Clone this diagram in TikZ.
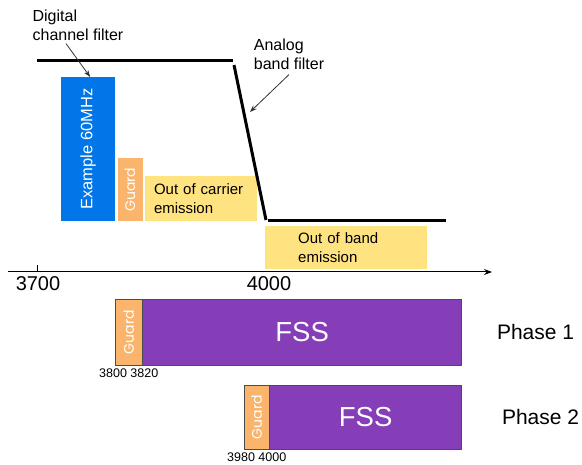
\documentclass[tikz,border=0pt]{standalone}
\usepackage{fontspec}
\setmainfont{Liberation Sans}
\newfontfamily\guardfont{Poppins}
\usetikzlibrary{arrows.meta, positioning}

\definecolor{chanblue}{RGB}{0,118,232}
\definecolor{guardorange}{RGB}{250,180,108}
\definecolor{emityellow}{RGB}{255,227,128}
\definecolor{fsspurple}{RGB}{134,62,184}

\begin{document}
\begin{tikzpicture}[
    x=1pt, y=-1pt,
    block/.style={
        rectangle,
        inner sep=0pt,
        anchor=north west
    },
    guardbox/.style={
        block,
        fill=guardorange,
        minimum width=25pt,
        label={[rotate=90, text=white, font=\guardfont\fontsize{14}{16}\selectfont]center:Guard}
    },
    emitbox/.style={
        block,
        fill=emityellow,
        align=left,
        font=\fontsize{15}{19}\selectfont
    },
    fssbox/.style={
        block,
        fill=fsspurple,
        draw=black!70,
        text=white,
        font=\fontsize{27.5}{32}\selectfont
    },
    note/.style={
        align=left,
        inner sep=0pt,
        font=\fontsize{16}{19}\selectfont
    },
    pointer/.style={
        -{Stealth[length=7pt, width=5pt]},
        line width=0.8pt,
        black!80
    },
    filter/.style={
        line width=3pt
    },
    freq/.style={
        inner sep=0pt,
        font=\fontsize{20}{24}\selectfont
    },
    edge/.style={
        inner sep=0pt,
        font=\fontsize{12.5}{15}\selectfont
    },
    phase/.style={
        inner sep=0pt,
        anchor=west,
        font=\fontsize{21}{25}\selectfont
    }
]
\useasboundingbox (0,0) rectangle (582,465);

% Channel and emission bands
\node[block, fill=chanblue, minimum width=54pt, minimum height=144pt,
      label={[rotate=90, text=white, font=\fontsize{16.5}{20}\selectfont]center:Example 60MHz}] (chan) at (61,77) {};
\node[guardbox, minimum height=63pt, right=2pt of chan.south east, anchor=south west] (topguard) {};
\node[emitbox, minimum width=112pt, minimum height=45pt, right=2pt of topguard.south east, anchor=south west,
      inner xsep=9pt, text width=94pt] (carrier) {Out of carrier\\emission};
\node[emitbox, minimum width=162pt, minimum height=43pt, inner xsep=33pt, text width=96pt] (band) at (265,226) {Out of band\\emission};

% Filter mask
\draw[filter] (37,61) -- (233,61);
\draw[filter] (234,65) -- (266,220);
\draw[filter] (268,221) -- (446,221);

% Notes
\node[note] (dcf) at (78,25) {Digital\\channel filter};
\node[note] (abf) at (289,54) {Analog\\band filter};
\coordinate (slope) at (250,112);
\draw[pointer] ([xshift=-12pt, yshift=-3pt]dcf.south) -- ([xshift=2pt]chan.north);
\draw[pointer] ([yshift=-5pt]abf.south) -- (slope);

% Frequency axis
\coordinate (origin) at (8,272);
\coordinate (axisend) at (492,272);
\draw[-{Stealth[length=8pt, width=6pt]}, line width=1pt] (origin) -- (axisend);
\draw[line width=1pt] (37,272) -- ++(0,-7);
\node[freq] (f3700) at (38,284) {3700};
\node[freq] (f4000) at (269,284) {4000};

% Phase 1
\node[guardbox, draw=black!70, minimum width=27pt, minimum height=66pt] (guard1) at (115,299) {};
\node[fssbox, minimum width=319pt, minimum height=66pt, right=0pt of guard1] (fss1) {FSS};
\node[edge, below=3pt of guard1] (edge1) {3800 3820};
\node[phase, right=35pt of fss1] (phase1) {Phase 1};

% Phase 2
\node[guardbox, draw=black!70, minimum height=64pt] (guard2) at (244,385) {};
\node[fssbox, minimum width=192pt, minimum height=64pt, right=0pt of guard2] (fss2) {FSS};
\node[edge, below=3pt of guard2] (edge2) {3980 4000};
\node[phase, right=40pt of fss2] (phase2) {Phase 2};

\end{tikzpicture}
\end{document}
